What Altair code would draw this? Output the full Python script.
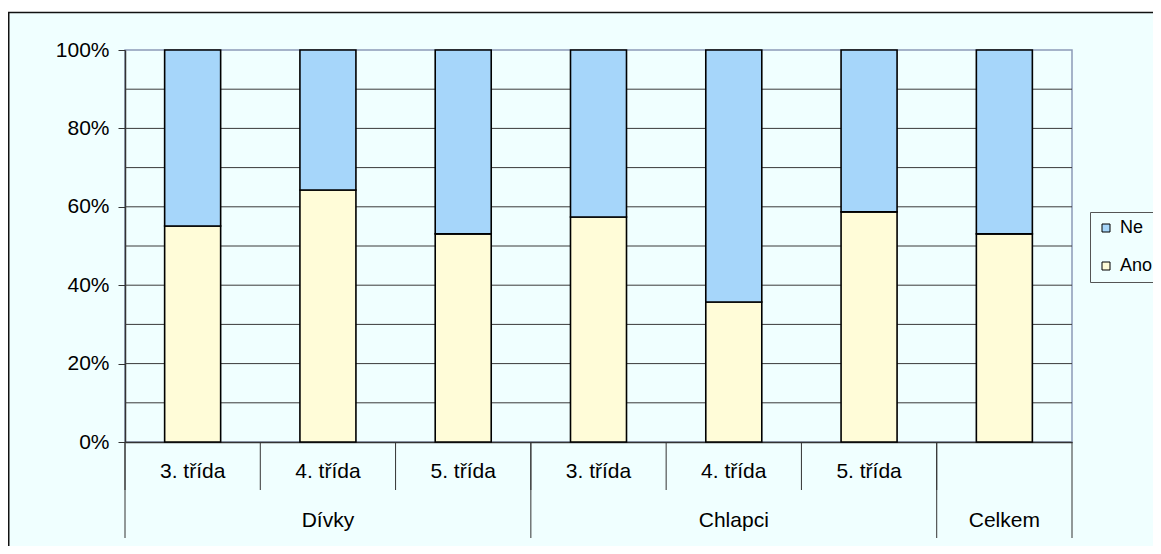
import altair as alt
import pandas as pd

# ---- data ----
groups = ["Dívky", "Dívky", "Dívky", "Chlapci", "Chlapci", "Chlapci", "Celkem"]
classes = ["3. třída", "4. třída", "5. třída", "3. třída", "4. třída", "5. třída", ""]
ano = [55.1, 64.3, 53.1, 57.4, 35.7, 58.7, 53.1]
ne = [44.9, 35.7, 46.9, 42.6, 64.3, 41.3, 46.9]
series = ["Ne", "Ano"]
series_colors = ["#A6D6FA", "#FFFCD8"]
y_ticks = [0, 0.2, 0.4, 0.6, 0.8, 1.0]
grid_vals = [0.1, 0.2, 0.3, 0.4, 0.5, 0.6, 0.7, 0.8, 0.9]

FONT = "Liberation Sans"
BG = "#F0FFFF"
DARK = "#333333"
W, H = 947, 392

keys = [f"{g}|{c}" for g, c in zip(groups, classes)]
rows = []
for k, a, n in zip(keys, ano, ne):
    rows.append({"key": k, "series": "Ano", "pct": a, "ord": 0})
    rows.append({"key": k, "series": "Ne", "pct": n, "ord": 1})
bars_df = pd.DataFrame(rows)
cats_df = pd.DataFrame({"key": keys, "group": groups, "klass": classes})
first_df = cats_df.drop_duplicates("group", keep="first")
last_df = cats_df.tail(1)
mid_rows = []
for g in dict.fromkeys(groups):
    members = cats_df[cats_df.group == g]
    mid_rows.append(members.iloc[len(members) // 2])
mid_df = pd.DataFrame(mid_rows)
klass_df = cats_df[cats_df.klass != ""]
grid_df = pd.DataFrame({"g": grid_vals})

x_scale = alt.Scale(domain=keys, paddingInner=0, paddingOuter=0)
y_scale = alt.Scale(domain=[0, 1], nice=False)
x_axis = alt.Axis(labels=False, ticks=False, domain=True, domainColor=DARK,
                  domainWidth=1.5, grid=False, title=None)
y_axis = alt.Axis(values=y_ticks, format=".0%", grid=False, title=None,
                  labelFont=FONT, labelFontSize=21, labelColor="black",
                  tickSize=7, tickColor=DARK, labelPadding=9,
                  domainColor=DARK, domainWidth=1.5)

# frame pieces (outside the plot area)
one = pd.DataFrame({"a": [0]})
white_strip = alt.Chart(one).mark_rect(color="white").encode(
    x=alt.value(-130), x2=alt.value(1200), y=alt.value(-45), y2=alt.value(-38)
)
top_border = alt.Chart(one).mark_rule(color="#111111", strokeWidth=1.5).encode(
    x=alt.value(-117), x2=alt.value(1200), y=alt.value(-37.5)
)
left_border = alt.Chart(one).mark_rule(color="#111111", strokeWidth=2).encode(
    x=alt.value(-116.5), y=alt.value(-38), y2=alt.value(600)
)

grid = alt.Chart(grid_df).mark_rule(color="#3a3a3a", strokeWidth=1).encode(
    y=alt.Y("g:Q", scale=y_scale, axis=y_axis)
)

bars = alt.Chart(bars_df).mark_bar(
    width=alt.RelativeBandSize(0.414), stroke="black", strokeWidth=1.6
).encode(
    x=alt.X("key:N", scale=x_scale, sort=keys, axis=x_axis),
    y=alt.Y("pct:Q", stack="normalize", scale=y_scale, axis=y_axis),
    color=alt.Color("series:N", scale=alt.Scale(domain=series, range=series_colors),
                    legend=alt.Legend(orient="none", legendX=965, legendY=162, title=None,
                                      strokeColor="#555555", fillColor=BG, padding=7,
                                      symbolType="square", symbolSize=64,
                                      symbolStrokeColor="black", symbolStrokeWidth=1,
                                      labelFont=FONT, labelFontSize=18, labelColor="black",
                                      labelOffset=5, rowPadding=20)),
    order=alt.Order("ord:Q"),
)

div_small = alt.Chart(cats_df).mark_rule(color=DARK, strokeWidth=1).encode(
    x=alt.X("key:N", scale=x_scale, bandPosition=0, axis=x_axis),
    y=alt.value(H), y2=alt.value(H + 48),
)
div_group = alt.Chart(first_df).mark_rule(color=DARK, strokeWidth=1).encode(
    x=alt.X("key:N", scale=x_scale, bandPosition=0, axis=x_axis),
    y=alt.value(H), y2=alt.value(H + 96),
)
div_end = alt.Chart(last_df).mark_rule(color=DARK, strokeWidth=1).encode(
    x=alt.X("key:N", scale=x_scale, bandPosition=1, axis=x_axis),
    y=alt.value(H), y2=alt.value(H + 96),
)
klass_text = alt.Chart(klass_df).mark_text(
    font=FONT, fontSize=21, color="black", baseline="middle", align="center"
).encode(
    x=alt.X("key:N", scale=x_scale, axis=x_axis),
    y=alt.value(H + 30),
    text="klass:N",
)
group_text = alt.Chart(mid_df).mark_text(
    font=FONT, fontSize=21, color="black", baseline="middle", align="center"
).encode(
    x=alt.X("key:N", scale=x_scale, axis=x_axis),
    y=alt.value(H + 79),
    text="group:N",
)

chart = alt.layer(
    white_strip, top_border, left_border, grid, bars,
    div_small, div_group, div_end, klass_text, group_text
).properties(
    width=W, height=H,
    autosize=alt.AutoSizeParams(type="none"),
    padding={"left": 117, "top": 42, "right": 81, "bottom": 104},
    background=BG,
).configure_view(
    stroke="#8C9BB8", strokeWidth=1.5, fill=None
)

chart.save("out.html", embed_options={"renderer": "svg", "actions": False})
